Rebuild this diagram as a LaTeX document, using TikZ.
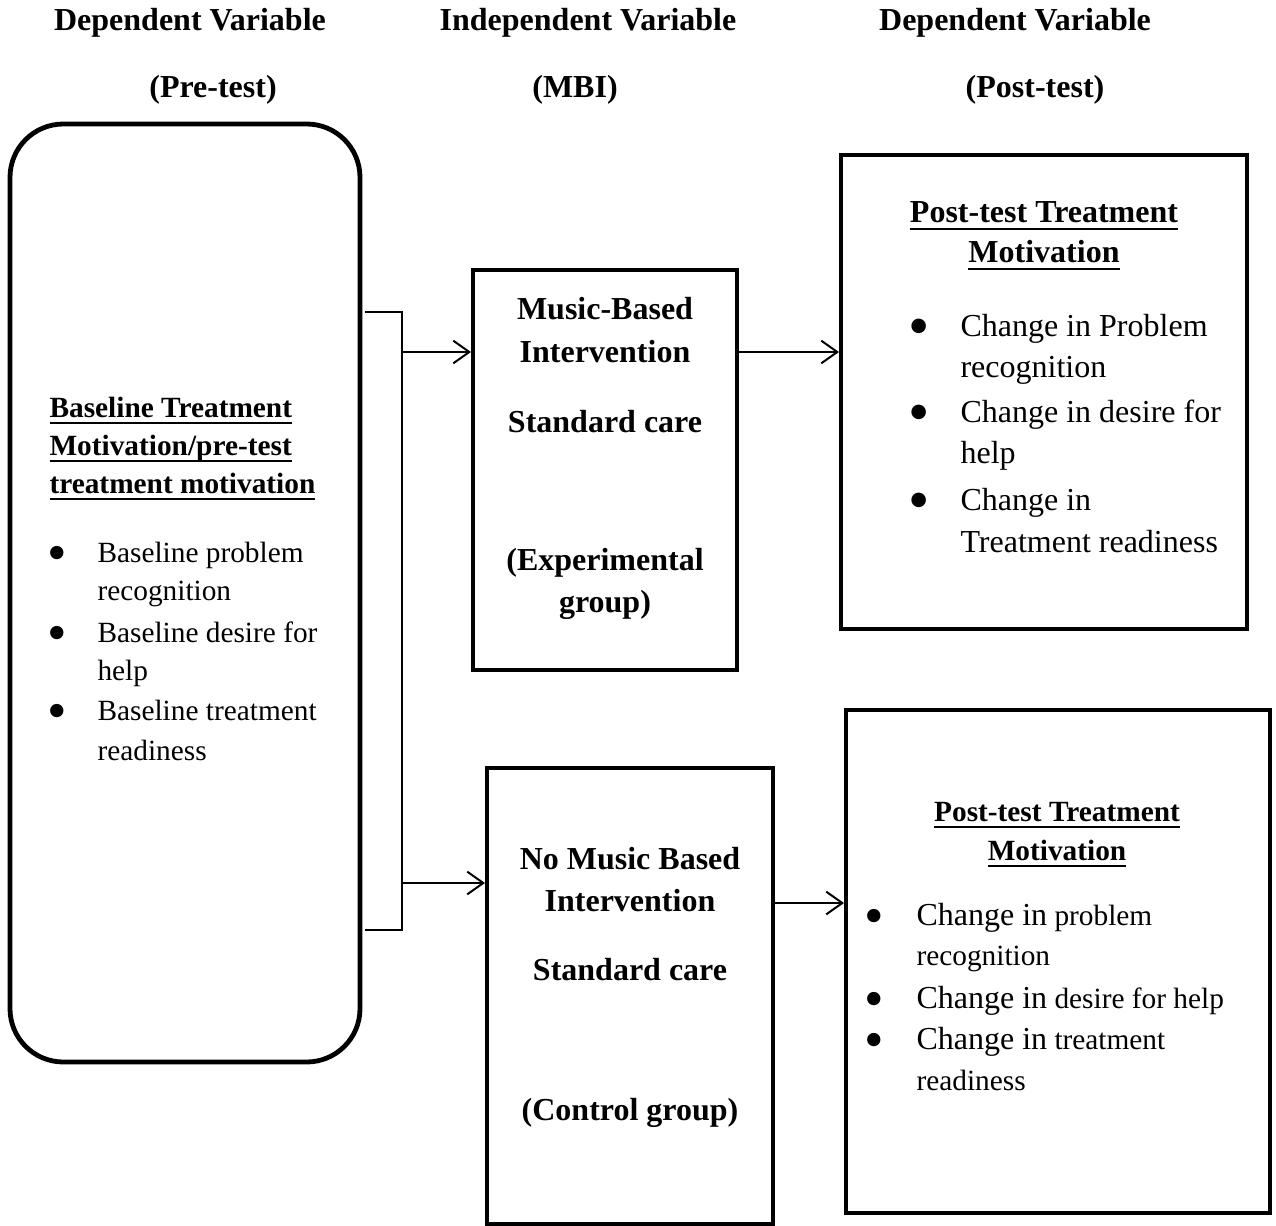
\documentclass[tikz,border=0pt]{standalone}
\usepackage{fontspec}
\usepackage{graphicx}
\setmainfont{Liberation Serif}
\newcommand\uln[1]{\setbox0=\hbox{#1}\rlap{\rule[-2.6pt]{\wd0}{0.8pt}}\box0}
\newcommand\bigbul{\smash{\raisebox{-0.32em}{\scalebox{1.9}{\textbullet}}}}
\usetikzlibrary{arrows.meta,fit}
\begin{document}
\begin{tikzpicture}[x=0.375pt,y=-0.375pt,
  box/.style={draw,line width=1.5pt,inner sep=0pt},
  rbox/.style={draw,line width=1.8pt,rounded corners=20pt,inner sep=0pt},
  hdr/.style={font=\fontsize{12}{14}\selectfont\bfseries,anchor=base,inner sep=0pt},
  ttlL/.style={font=\fontsize{11}{13}\selectfont\bfseries,anchor=base west,inner sep=0pt},
  ttlC/.style={font=\fontsize{11}{13}\selectfont\bfseries,anchor=base,inner sep=0pt},
  ttlB/.style={font=\fontsize{12}{14}\selectfont\bfseries,anchor=base,inner sep=0pt},
  txtS/.style={font=\fontsize{11}{13}\selectfont,anchor=base west,inner sep=0pt},
  txtM/.style={font=\fontsize{12}{14}\selectfont,anchor=base west,inner sep=0pt},
  bulS/.style={font=\fontsize{11}{13}\selectfont,anchor=base,inner sep=0pt},
  bulM/.style={font=\fontsize{12}{14}\selectfont,anchor=base,inner sep=0pt},
  conn/.style={line width=0.75pt},
  arr/.style={conn,-{Straight Barb[length=6pt,width=8.5pt,line width=0.75pt]}}]
\useasboundingbox (0,0) rectangle (1276,1226);

% headers
\node[hdr] (h1) at (190,31) {Dependent Variable};
\node[hdr] (h2) at (588,31) {Independent Variable};
\node[hdr] (h3) at (1015,31) {Dependent Variable};
\node[hdr] (h4) at (213,98) {(Pre-test)};
\node[hdr] (h5) at (575,98) {(MBI)};
\node[hdr] (h6) at (1035,98) {(Post-test)};

% boxes
\node[rbox,fit={(10,124) (360,1062)}] (pre) {};
\node[box,fit={(473,270) (737,670)}] (mbi) {};
\node[box,fit={(841,155) (1247,629)}] (post1) {};
\node[box,fit={(487,768) (773,1224)}] (ctrl) {};
\node[box,fit={(846,710) (1270,1213)}] (post2) {};

% left box text
\node[ttlL] (pt1) at (49,417) {\uln{Baseline Treatment}};
\node[ttlL] (pt2) at (49,455) {\uln{Motivation/pre-test}};
\node[ttlL] (pt3) at (49,493) {\uln{treatment motivation}};
\node[bulS] (pb1) at (57,562) {\bigbul};
\node[txtS] (pl1) at (97,562) {Baseline problem};
\node[txtS] (pl2) at (97,600) {recognition};
\node[bulS] (pb2) at (57,642) {\bigbul};
\node[txtS] (pl3) at (97,642) {Baseline desire for};
\node[txtS] (pl4) at (97,680) {help};
\node[bulS] (pb3) at (57,720) {\bigbul};
\node[txtS] (pl5) at (97,720) {Baseline treatment};
\node[txtS] (pl6) at (97,760) {readiness};

% MBI box text
\node[ttlB] (m1) at (605,320) {Music-Based};
\node[ttlB] (m2) at (605,362) {Intervention};
\node[ttlB] (m3) at (605,432) {Standard care};
\node[ttlB] (m4) at (605,570) {(Experimental};
\node[ttlB] (m5) at (605,612) {group)};

% control box text
\node[ttlB] (c1) at (630,869) {No Music Based};
\node[ttlB] (c2) at (630,911) {Intervention};
\node[ttlB] (c3) at (630,980) {Standard care};
\node[ttlB] (c4) at (630,1120) {(Control group)};

% top right text
\node[ttlB] (q1) at (1044,223) {\uln{Post-test Treatment}};
\node[ttlB] (q2) at (1044,263) {\uln{Motivation}};
\node[bulM] (qb1) at (919,336) {\bigbul};
\node[txtM] (ql1) at (960,336) {Change in Problem};
\node[txtM] (ql2) at (960,377) {recognition};
\node[bulM] (qb2) at (919,422) {\bigbul};
\node[txtM] (ql3) at (960,422) {Change in desire for};
\node[txtM] (ql4) at (960,463) {help};
\node[bulM] (qb3) at (919,510) {\bigbul};
\node[txtM] (ql5) at (960,510) {Change in};
\node[txtM] (ql6) at (960,552) {Treatment readiness};

% bottom right text
\node[ttlC] (r1) at (1057,821) {\uln{Post-test Treatment}};
\node[ttlC] (r2) at (1057,860) {\uln{Motivation}};
\node[bulS] (rb1) at (874,925) {\bigbul};
\node[txtS] (rl1) at (916,925) {{\fontsize{12}{14}\selectfont Change in} problem};
\node[txtS] (rl2) at (916,965) {recognition};
\node[bulS] (rb2) at (874,1008) {\bigbul};
\node[txtS] (rl3) at (916,1008) {{\fontsize{12}{14}\selectfont Change in} desire for help};
\node[bulS] (rb3) at (874,1049) {\bigbul};
\node[txtS] (rl4) at (916,1049) {{\fontsize{12}{14}\selectfont Change in} treatment};
\node[txtS] (rl5) at (916,1090) {readiness};

% connectors
\coordinate (bt) at (365,312);
\coordinate (bb) at (365,930);
\coordinate (j1) at (402,352);
\coordinate (j2) at (402,883);
\coordinate (y4) at (0,903);
\draw[conn] (bt) -| (j1) -- (j2) |- (bb);
\draw[arr] (j1) -- (mbi.west |- j1);
\draw[arr] (j2) -- (ctrl.west |- j2);
\draw[arr] (mbi.east |- j1) -- (post1.west |- j1);
\draw[arr] (ctrl.east |- y4) -- (post2.west |- y4);
\end{tikzpicture}
\end{document}
